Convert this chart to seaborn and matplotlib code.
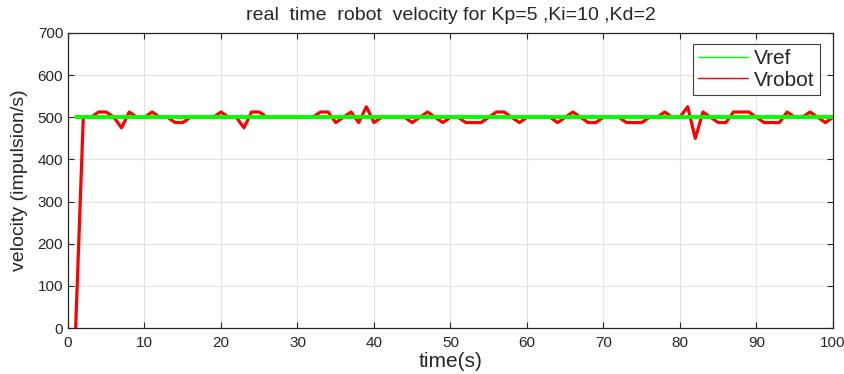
import numpy as np
import pandas as pd
import matplotlib
matplotlib.use("Agg")
import matplotlib.pyplot as plt
import seaborn as sns
from matplotlib.lines import Line2D

# time samples (s)
time_s = list(range(1, 101))

# reference velocity
v_ref = [500] * 100

v_robot = [
    0, 500, 500, 512.5, 512.5, 500, 475, 512.5, 500, 500,
    512.5, 500, 500, 487.5, 487.5, 500, 500, 500, 500, 512.5,
    500, 500, 475, 512.5, 512.5, 500, 500, 500, 500, 500,
    500, 500, 512.5, 512.5, 487.5, 500, 512.5, 487.5, 525, 487.5,
    500, 500, 500, 500, 487.5, 500, 512.5, 500, 487.5, 500,
    500, 487.5, 487.5, 487.5, 500, 512.5, 512.5, 500, 487.5, 500,
    500, 500, 500, 487.5, 500, 512.5, 500, 487.5, 487.5, 500,
    500, 500, 487.5, 487.5, 487.5, 500, 500, 512.5, 500, 500,
    525, 450, 512.5, 500, 487.5, 487.5, 512.5, 512.5, 512.5, 500,
    487.5, 487.5, 487.5, 512.5, 500, 500, 512.5, 500, 487.5, 500,
]

df = pd.DataFrame({"time": time_s, "Vref": v_ref, "Vrobot": v_robot})

sns.set_style("whitegrid")
plt.rcParams['font.family'] = ['Liberation Sans', 'DejaVu Sans']

fig = plt.figure(figsize=(8.45, 3.74), dpi=100)
ax = fig.add_axes([68 / 845, 1 - 328 / 374, (833 - 68) / 845, (328 - 33) / 374])

sns.lineplot(data=df, x="time", y="Vrobot", ax=ax, color="#ff0000", linewidth=2.3)
sns.lineplot(data=df, x="time", y="Vref", ax=ax, color="#00ff00", linewidth=2.8)

ax.set_xlim(0, 100)
ax.set_ylim(0, 700)
ax.set_xticks(np.arange(0, 101, 10))
ax.set_yticks(np.arange(0, 701, 100))
ax.tick_params(direction="in", length=4, width=0.8, colors="#262626",
               labelsize=11, top=True, right=True, bottom=True, left=True)
ax.tick_params(axis="x", pad=6)
ax.grid(True, color="#e3e3e3", linewidth=0.8)
for s in ax.spines.values():
    s.set_color("#262626")
    s.set_linewidth(0.9)

ax.set_title("real  time  robot  velocity for Kp=5 ,Ki=10 ,Kd=2", fontsize=14, pad=9)
ax.set_xlabel("time(s)", fontsize=15, labelpad=1)
ax.set_ylabel("velocity (impulsion/s)", fontsize=14, labelpad=7)

handles = [Line2D([], [], color="#00ff00", linewidth=1.0),
           Line2D([], [], color="#ff0000", linewidth=1.0)]
leg = ax.legend(handles, ["Vref", "Vrobot"], loc="upper right", fontsize=15,
                frameon=True, fancybox=False, framealpha=1, edgecolor="#404040",
                handlelength=2.4, handletextpad=0.3, borderpad=0.25,
                labelspacing=0.1, borderaxespad=0,
                bbox_to_anchor=(0.983, 0.962))
leg.get_frame().set_linewidth(0.8)

fig.savefig("out.png", dpi=100)
